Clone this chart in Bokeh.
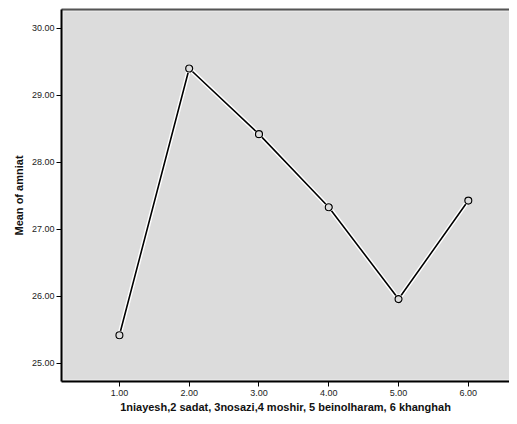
from bokeh.plotting import figure
from bokeh.models import Range1d, FixedTicker, LinearAxis, CustomJSTickFormatter, BoxAnnotation
from bokeh.embed import file_html
from bokeh.resources import INLINE

groups = [1, 2, 3, 4, 5, 6]
mean_amniat = [25.42, 29.40, 28.42, 27.33, 25.96, 27.43]
x_ticks = [1, 2, 3, 4, 5, 6]
y_ticks = [25, 26, 27, 28, 29, 30]

p = figure(width=509, height=416, output_backend="svg", toolbar_location=None,
           x_range=Range1d(0.17, 6.59), y_range=Range1d(24.73, 30.28),
           min_border_left=61, min_border_right=0, min_border_top=9, min_border_bottom=35)

p.background_fill_color = "#dcdcdc"
p.border_fill_color = "white"
p.outline_line_color = None
p.grid.visible = False

fmt = CustomJSTickFormatter(code="return tick.toFixed(2);")
for ax in (p.xaxis[0], p.yaxis[0]):
    ax.formatter = fmt
    ax.axis_line_color = "black"
    ax.axis_line_width = 2
    ax.major_tick_line_color = "black"
    ax.major_tick_line_width = 1
    ax.major_tick_in = 0
    ax.major_tick_out = 5
    ax.minor_tick_line_color = None
    ax.major_label_text_font = "Liberation Sans"
    ax.major_label_text_font_size = "9px"
    ax.major_label_text_color = "#222222"
    ax.axis_label_text_font = "Liberation Sans"
    ax.axis_label_text_font_size = "11px"
    ax.axis_label_text_font_style = "bold"
    ax.axis_label_text_color = "#111111"

p.xaxis[0].ticker = FixedTicker(ticks=x_ticks)
p.yaxis[0].ticker = FixedTicker(ticks=y_ticks)
p.xaxis[0].axis_label = "1niayesh,2 sadat, 3nosazi,4 moshir, 5 beinolharam, 6 khanghah"
p.yaxis[0].axis_label = "Mean of amniat"
p.xaxis[0].major_label_standoff = 3
p.xaxis[0].axis_label_standoff = 2
p.yaxis[0].major_label_standoff = 2
p.yaxis[0].axis_label_standoff = 4

top = LinearAxis(ticker=FixedTicker(ticks=[]), major_tick_out=0, major_tick_in=0,
                 major_label_text_font_size="0px", major_label_standoff=0,
                 minor_tick_line_color=None, axis_line_color="#555555", axis_line_width=2)
p.add_layout(top, "above")

# thin white inner border of the plot area
p.add_layout(BoxAnnotation(left=0.20, right=7.0, bottom=24.76, top=30.25,
                           fill_color=None, line_color="white", line_width=1.2))

# white halo under the line, like the reference
p.line(groups, mean_amniat, line_color="white", line_width=4.5)
p.line(groups, mean_amniat, line_color="black", line_width=1.6)
p.scatter(groups, mean_amniat, marker="circle", size=9, fill_color="white", line_color=None)
p.scatter(groups, mean_amniat, marker="circle", size=7, fill_color="#dcdcdc",
          line_color="black", line_width=1.2)

open("out.html", "w").write(file_html(p, INLINE))
